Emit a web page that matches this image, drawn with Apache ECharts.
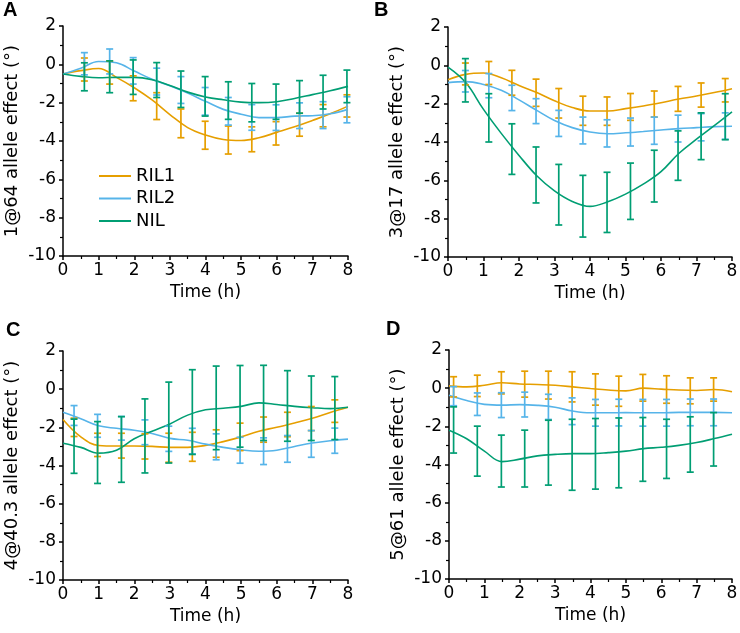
<!DOCTYPE html>
<html><head><meta charset="utf-8">
<script src="https://cdn.jsdelivr.net/npm/echarts@6/dist/echarts.min.js"></script>
<style>html,body{margin:0;padding:0;background:#fff}#chart{width:740px;height:633px}</style>
</head><body><div id="chart"></div><script>
// ---------- DATA ----------
const seriesNames = ['RIL1', 'RIL2', 'NIL'];
const panelLabels = ['A', 'B', 'C', 'D'];
const yAxisTitles = ['1@64 allele effect (°)', '3@17 allele effect (°)', '4@40.3 allele effect (°)', '5@61 allele effect (°)'];
const xAxisTitle = 'Time (h)';

// time points for the traces (h)
const timeH = [0, 0.5, 1, 1.5, 2, 2.5, 3, 3.5, 4, 4.5, 5, 5.5, 6, 6.5, 7, 7.5, 8];

// Panel A traces
const lineA_RIL1 = [-0.5, -0.33, -0.22, -0.68, -1.22, -1.86, -2.62, -3.3, -3.69, -3.92, -3.97, -3.83, -3.55, -3.26, -2.93, -2.58, -2.18];
const lineA_RIL2 = [-0.5, -0.2, 0.15, 0.08, -0.35, -0.78, -1.12, -1.5, -1.93, -2.35, -2.6, -2.78, -2.78, -2.7, -2.68, -2.58, -2.35];
const lineA_NIL  = [-0.5, -0.63, -0.7, -0.68, -0.68, -0.8, -1.1, -1.45, -1.7, -1.85, -1.97, -2.0, -1.95, -1.78, -1.58, -1.38, -1.15];
// Panel B traces
const lineB_RIL1 = [-0.75, -0.47, -0.4, -0.65, -1.05, -1.42, -1.85, -2.2, -2.38, -2.38, -2.26, -2.12, -1.95, -1.76, -1.6, -1.42, -1.22];
const lineB_RIL2 = [-0.9, -0.85, -1.0, -1.3, -1.8, -2.35, -2.88, -3.25, -3.48, -3.57, -3.52, -3.45, -3.37, -3.3, -3.25, -3.2, -3.18];
const lineB_NIL  = [-0.09, -0.9, -2.3, -3.55, -4.7, -5.76, -6.55, -7.1, -7.36, -7.12, -6.72, -6.2, -5.55, -4.6, -3.85, -3.15, -2.43];
// Panel C traces
const lineC_RIL1 = [-1.59, -2.5, -2.95, -2.98, -2.98, -3.0, -3.05, -3.05, -2.95, -2.75, -2.5, -2.2, -2.0, -1.77, -1.52, -1.22, -0.95];
const lineC_RIL2 = [-1.21, -1.55, -1.92, -2.05, -2.15, -2.32, -2.58, -2.68, -2.88, -3.05, -3.18, -3.25, -3.2, -3.0, -2.82, -2.7, -2.62];
const lineC_NIL  = [-2.83, -3.05, -3.35, -3.2, -2.6, -2.2, -1.82, -1.36, -1.08, -1.0, -0.9, -0.72, -0.8, -0.9, -0.97, -1.02, -0.95];
// Panel D traces
const lineD_RIL1 = [0.12, 0.07, 0.15, 0.28, 0.22, 0.19, 0.15, 0.07, -0.02, -0.1, -0.14, 0.0, -0.05, -0.1, -0.12, -0.07, -0.19];
const lineD_RIL2 = [-0.37, -0.65, -0.85, -0.89, -0.86, -0.9, -1.0, -1.2, -1.29, -1.29, -1.28, -1.29, -1.29, -1.27, -1.27, -1.27, -1.29];
const lineD_NIL  = [-2.2, -2.65, -3.3, -3.85, -3.72, -3.55, -3.47, -3.43, -3.43, -3.38, -3.3, -3.17, -3.1, -3.0, -2.85, -2.64, -2.41];

// Error bars: time, centre, half-width
const errTimeA = [0.6, 1.31, 1.97, 2.63, 3.31, 3.99, 4.64, 5.3, 5.98, 6.64, 7.3, 7.97];
const errMeanA_RIL1 = [-0.27, -0.43, -1.25, -2.18, -3.08, -3.7, -3.95, -3.91, -3.6, -3.15, -2.68, -2.17];
const errSdA_RIL1   = [0.6, 0.6, 0.65, 0.7, 0.75, 0.73, 0.73, 0.65, 0.61, 0.6, 0.58, 0.58];
const errMeanA_RIL2 = [0.03, 0.15, -0.34, -0.9, -1.34, -1.93, -2.45, -2.77, -2.78, -2.68, -2.65, -2.37];
const errSdA_RIL2   = [0.58, 0.65, 0.69, 0.7, 0.7, 0.72, 0.72, 0.67, 0.67, 0.67, 0.7, 0.68];
const errMeanA_NIL  = [-0.65, -0.65, -0.67, -0.82, -1.3, -1.67, -1.89, -2.0, -1.95, -1.7, -1.45, -1.15];
const errSdA_NIL    = [0.73, 0.83, 0.9, 0.91, 0.95, 1.03, 0.98, 1.0, 0.92, 0.85, 0.88, 0.85];

const errTimeB = [0.49, 1.15, 1.8, 2.48, 3.12, 3.8, 4.48, 5.14, 5.81, 6.48, 7.13, 7.81];
const errMeanB_RIL1 = [-0.45, -0.4, -0.91, -1.43, -1.98, -2.37, -2.39, -2.17, -2.02, -1.75, -1.55, -1.3];
const errSdB_RIL1   = [0.57, 0.6, 0.65, 0.71, 0.77, 0.76, 0.74, 0.7, 0.68, 0.65, 0.63, 0.61];
const errMeanB_RIL2 = [-0.83, -1.06, -1.7, -2.39, -3.03, -3.4, -3.55, -3.48, -3.41, -3.3, -3.23, -3.17];
const errSdB_RIL2   = [0.56, 0.63, 0.66, 0.65, 0.68, 0.7, 0.71, 0.73, 0.71, 0.7, 0.71, 0.69];
const errMeanB_NIL  = [-0.78, -2.74, -4.37, -5.72, -6.75, -7.35, -7.15, -6.57, -5.78, -4.71, -3.7, -2.68];
const errSdB_NIL    = [1.13, 1.26, 1.32, 1.46, 1.58, 1.61, 1.57, 1.47, 1.35, 1.29, 1.22, 1.2];

const errTimeC = [0.31, 0.97, 1.64, 2.3, 2.97, 3.63, 4.3, 4.97, 5.63, 6.3, 6.97, 7.63];
const errMeanC_RIL1 = [-2.0, -2.92, -2.96, -3.0, -3.07, -3.02, -2.85, -2.5, -2.12, -1.85, -1.54, -1.15];
const errSdC_RIL1   = [0.48, 0.61, 0.65, 0.66, 0.76, 0.76, 0.72, 0.72, 0.66, 0.64, 0.63, 0.59];
const errMeanC_RIL2 = [-1.38, -1.92, -2.05, -2.26, -2.6, -2.72, -3.02, -3.2, -3.25, -3.13, -2.87, -2.7];
const errSdC_RIL2   = [0.52, 0.6, 0.62, 0.65, 0.66, 0.67, 0.68, 0.68, 0.7, 0.7, 0.7, 0.66];
const errMeanC_NIL  = [-2.99, -3.32, -3.16, -2.45, -1.75, -1.2, -0.98, -0.9, -0.72, -0.88, -1.0, -0.99];
const errSdC_NIL    = [1.42, 1.62, 1.72, 1.94, 2.12, 2.22, 2.19, 2.14, 1.97, 1.85, 1.69, 1.65];

const errTimeD = [0.13, 0.8, 1.48, 2.14, 2.81, 3.48, 4.14, 4.8, 5.48, 6.15, 6.82, 7.48];
const errMeanD_RIL1 = [0.07, 0.12, 0.28, 0.21, 0.16, 0.07, -0.07, -0.16, 0.02, -0.07, -0.14, -0.07];
const errSdD_RIL1   = [0.53, 0.56, 0.58, 0.68, 0.73, 0.79, 0.82, 0.79, 0.7, 0.72, 0.68, 0.61];
const errMeanD_RIL2 = [-0.42, -0.84, -0.89, -0.86, -0.98, -1.21, -1.29, -1.28, -1.29, -1.29, -1.27, -1.27];
const errSdD_RIL2   = [0.5, 0.59, 0.65, 0.65, 0.66, 0.7, 0.7, 0.7, 0.7, 0.7, 0.7, 0.7];
const errMeanD_NIL  = [-2.19, -3.3, -3.82, -3.69, -3.38, -3.49, -3.44, -3.39, -3.21, -3.18, -2.95, -2.68];
const errSdD_NIL    = [1.21, 1.31, 1.36, 1.49, 1.7, 1.86, 1.85, 1.83, 1.67, 1.55, 1.45, 1.4];

// ---------- ASSEMBLY ----------
const panels = [
  { lines: [lineA_RIL1, lineA_RIL2, lineA_NIL], errT: errTimeA,
    errM: [errMeanA_RIL1, errMeanA_RIL2, errMeanA_NIL], errS: [errSdA_RIL1, errSdA_RIL2, errSdA_NIL] },
  { lines: [lineB_RIL1, lineB_RIL2, lineB_NIL], errT: errTimeB,
    errM: [errMeanB_RIL1, errMeanB_RIL2, errMeanB_NIL], errS: [errSdB_RIL1, errSdB_RIL2, errSdB_NIL] },
  { lines: [lineC_RIL1, lineC_RIL2, lineC_NIL], errT: errTimeC,
    errM: [errMeanC_RIL1, errMeanC_RIL2, errMeanC_NIL], errS: [errSdC_RIL1, errSdC_RIL2, errSdC_NIL] },
  { lines: [lineD_RIL1, lineD_RIL2, lineD_NIL], errT: errTimeD,
    errM: [errMeanD_RIL1, errMeanD_RIL2, errMeanD_NIL], errS: [errSdD_RIL1, errSdD_RIL2, errSdD_NIL] }
];

const colors = ['#E69F00', '#56B4E9', '#009E73'];
const FONT = 'DejaVu Sans';
const gridBoxes = [
  { left: 63, top: 26, width: 285, height: 230 },
  { left: 448, top: 27, width: 284, height: 230 },
  { left: 63, top: 351, width: 285, height: 229 },
  { left: 449, top: 350, width: 283, height: 229 }
];
const titlePos = [{ left: 3, top: 0 }, { left: 374, top: 0 }, { left: 6, top: 320 }, { left: 386, top: 319 }];

function errRender(color) {
  return function (params, api) {
    const x = api.value(0), m = api.value(1), sd = api.value(2);
    const top = api.coord([x, m + sd]);
    const bot = api.coord([x, m - sd]);
    const hw = 3.5;
    const style = { stroke: color, lineWidth: 1.7, fill: null };
    return { type: 'group', children: [
      { type: 'line', shape: { x1: top[0], y1: top[1], x2: bot[0], y2: bot[1] }, style: style },
      { type: 'line', shape: { x1: top[0] - hw, y1: top[1], x2: top[0] + hw, y2: top[1] }, style: style },
      { type: 'line', shape: { x1: bot[0] - hw, y1: bot[1], x2: bot[0] + hw, y2: bot[1] }, style: style }
    ]};
  };
}

const grid = gridBoxes.map(g => Object.assign({ outerBoundsMode: 'none', containLabel: false }, g));
const axisCommon = {
  axisLine: { show: true, onZero: false, lineStyle: { color: '#000', width: 1.5 } },
  axisTick: { show: true, inside: false, length: 4, lineStyle: { color: '#000', width: 1.5 } },
  minorTick: { show: true, splitNumber: 2, length: 3, lineStyle: { color: '#000', width: 1.2 } },
  splitLine: { show: false },
  minorSplitLine: { show: false }
};
const xAxis = panels.map((p, i) => Object.assign({}, axisCommon, {
  type: 'value', gridIndex: i, min: 0, max: 8, interval: 1,
  axisLabel: { color: '#000', fontSize: 17, fontFamily: FONT, margin: 6 },
  name: xAxisTitle, nameLocation: 'middle', nameGap: 28,
  nameTextStyle: { color: '#000', fontSize: 17, fontFamily: FONT }
}));
const yAxis = panels.map((p, i) => Object.assign({}, axisCommon, {
  type: 'value', gridIndex: i, min: -10, max: 2, interval: 2,
  axisLabel: { color: '#000', fontSize: 17, fontFamily: FONT, margin: 7 },
  name: yAxisTitles[i], nameLocation: 'middle', nameGap: 42,
  nameTextStyle: { color: '#000', fontSize: 18, fontFamily: FONT }
}));

const series = [];
panels.forEach((p, i) => {
  p.lines.forEach((arr, k) => {
    series.push({
      type: 'line', name: seriesNames[k], xAxisIndex: i, yAxisIndex: i,
      data: timeH.map((t, j) => [t, arr[j]]),
      showSymbol: false, symbol: 'none', smooth: 0.4,
      lineStyle: { color: colors[k], width: 1.6 }, itemStyle: { color: colors[k] },
      silent: true, z: 2
    });
  });
  p.lines.forEach((arr, k) => {
    series.push({
      type: 'custom', name: seriesNames[k] + ' SE', xAxisIndex: i, yAxisIndex: i,
      data: p.errT.map((t, j) => [t, p.errM[k][j], p.errS[k][j]]),
      encode: { x: 0, y: 1 },
      renderItem: errRender(colors[k]), silent: true, z: 3
    });
  });
});

const option = {
  animation: false,
  backgroundColor: '#fff',
  title: panelLabels.map((t, i) => ({
    text: t, left: titlePos[i].left, top: titlePos[i].top, padding: 0,
    textStyle: { fontSize: 20, fontWeight: 'bold', fontFamily: 'Liberation Sans', color: '#000' }
  })),
  legend: {
    data: seriesNames, orient: 'vertical', left: 94, top: 162,
    icon: 'rect', itemWidth: 32, itemHeight: 2, itemGap: 4.5, selectedMode: false,
    textStyle: { color: '#000', fontSize: 18, fontFamily: FONT }
  },
  grid: grid, xAxis: xAxis, yAxis: yAxis, series: series
};

const chart = echarts.init(document.getElementById('chart'), null, { renderer: 'canvas' });
chart.setOption(option);
</script></body></html>
